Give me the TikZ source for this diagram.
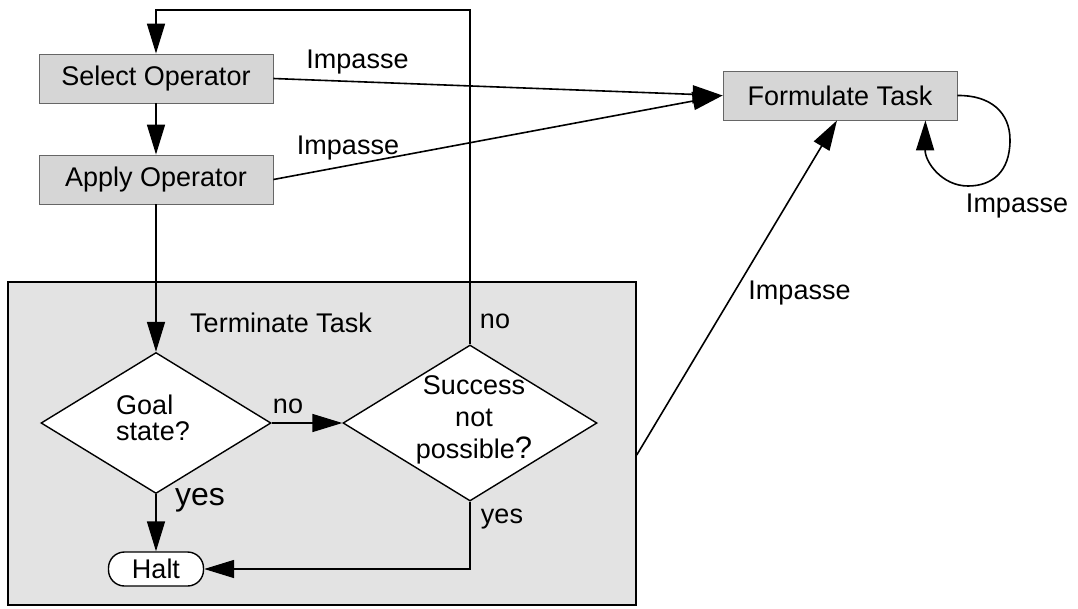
\documentclass[tikz,border=0pt]{standalone}
\usepackage{fontspec}
\setmainfont{Liberation Sans}
\usetikzlibrary{arrows.meta,shapes.geometric}
\begin{document}
\begin{tikzpicture}[x=1pt,y=-1pt,
  every node/.style={font=\fontsize{27}{29}\selectfont},
  arr/.style={line width=1.6pt,-{Triangle[length=30pt,width=18pt]}},
  procbox/.style={draw=black!60,line width=0.8pt,fill=black!16,minimum width=234pt,minimum height=49pt,inner sep=0pt},
  decision/.style={diamond,draw,fill=white,line width=1.4pt,inner sep=0pt},
  lbl/.style={anchor=base,inner sep=0pt}]
\useasboundingbox (0,0) rectangle (1078,608);
% Terminate Task region
\node[draw,line width=1.5pt,fill=black!11,minimum width=628pt,minimum height=323pt,inner sep=0pt] (tt) at (322,443.5) {};
% process boxes
\node[procbox] (so) at (156,78.5) {Select Operator};
\node[procbox] (ao) at (156,179.5) {Apply Operator};
\node[procbox] (ft) at (840,95.5) {Formulate Task};
% decisions
\node[decision,minimum width=230pt,minimum height=141pt] (gd) at (156,423) {};
\node[decision,minimum width=254pt,minimum height=156pt] (sd) at (470,423) {};
\node[align=left,font=\fontsize{27}{26.6}\selectfont] (gdt) at (153,418) {Goal\\state?};
\node[align=center,font=\fontsize{27}{31.7}\selectfont] (sdt) at (474,420) {Success\\not\\possible{\fontsize{31}{31}\selectfont ?}};
% halt
\node[draw,fill=white,rounded corners=16pt,line width=1.4pt,minimum width=95pt,minimum height=34pt,inner sep=0pt] (halt) at (156,569) {Halt};
% labels
\node[lbl] (l1) at (357.5,68) {Impasse};
\node[lbl] (l2) at (348,154) {Impasse};
\node[lbl] (l3) at (1017,212) {Impasse};
\node[lbl] (l4) at (799.5,299) {Impasse};
\node[lbl] (l5) at (281,332) {Terminate Task};
\node[lbl] (l6) at (495,328) {no};
\node[lbl] (l7) at (288,413) {no};
\node[lbl,font=\fontsize{32}{32}\selectfont] (l8) at (200,505) {yes};
\node[lbl,font=\fontsize{27}{27}\selectfont] (l9) at (502,523) {yes};
% connectors
\coordinate (topL) at (156,10);
\draw[arr] (sd.north) |- (topL) -- (so.north);
\draw[arr] (so) -- (ao);
\draw[arr] (ao) -- (gd);
\draw[arr] (gd) -- (sd);
\draw[arr] (gd) -- (halt);
\draw[arr] (sd.south) |- (halt.east);
\draw[arr] (so.east) -- (ft.west);
\draw[arr] (ao.east) -- (ft.west);
\draw[arr] ([yshift=-11.5pt]tt.east) -- ([xshift=-3pt]ft.south);
\draw[arr] (ft.east) .. controls (990,95) and (1010,112) .. (1010,140)
  .. controls (1010,172) and (992,186) .. (968,186)
  .. controls (942,186) and (925,162) .. ([xshift=-32pt]ft.south east);
\end{tikzpicture}
\end{document}
